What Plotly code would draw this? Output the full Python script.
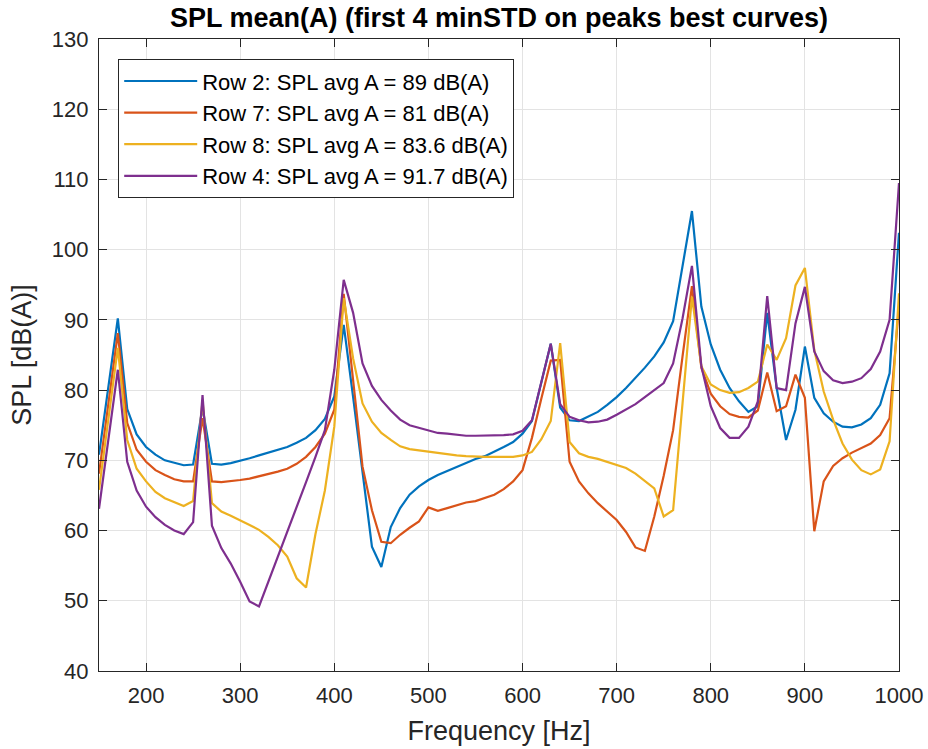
import plotly.graph_objects as go

freq = list(range(150, 1001, 10))

row2 = [70.8, 80.5, 90.2, 77.3, 73.7, 71.9, 70.8, 70.0, 69.6, 69.3,
        69.4, 77.5, 69.5, 69.4, 69.6, 69.9, 70.3, 70.7, 71.1, 71.4,
        71.9, 72.5, 73.2, 74.3, 75.9, 79.1, 89.3, 79.0, 68.5, 57.7,
        54.8, 60.5, 63.2, 65.1, 66.3, 67.2, 67.9, 68.5, 69.1, 69.7,
        70.2, 70.6, 71.2, 71.9, 72.6, 73.8, 75.6, 81.0, 86.6, 77.5,
        75.7, 75.6, 76.2, 76.9, 77.9, 79.0, 80.3, 81.7, 83.2, 84.8,
        86.8, 89.8, 97.4, 105.5, 91.9, 86.5, 82.9, 80.3, 78.4, 76.9,
        77.7, 91.0, 80.3, 72.9, 77.2, 86.2, 78.9, 76.7, 75.5, 74.8,
        74.7, 75.1, 76.0, 77.9, 82.4, 102.4]

row7 = [68.1, 78.1, 88.1, 75.3, 71.5, 69.8, 68.6, 67.9, 67.3, 67.0,
        67.0, 76.0, 67.0, 66.9, 67.0, 67.2, 67.4, 67.7, 68.0, 68.4,
        68.8, 69.5, 70.5, 71.9, 73.8, 77.2, 93.7, 81.0, 69.1, 62.9,
        58.4, 58.2, 59.4, 60.4, 61.3, 63.3, 62.8, 63.2, 63.6, 64.0,
        64.2, 64.6, 65.1, 65.9, 67.0, 68.6, 73.2, 78.8, 84.2, 84.3,
        69.8, 67.0, 65.3, 63.9, 62.7, 61.5, 59.8, 57.6, 57.1, 62.0,
        67.8, 74.3, 84.8, 94.8, 83.2, 79.5, 77.7, 76.6, 76.2, 76.1,
        77.1, 82.5, 77.0, 77.7, 82.2, 78.9, 59.9, 67.0, 69.2, 70.3,
        71.1, 71.7, 72.4, 73.6, 76.0, 92.0]

row8 = [65.8, 75.9, 86.0, 72.9, 68.8, 67.0, 65.5, 64.6, 64.0, 63.5,
        64.2, 78.5, 63.9, 62.7, 62.1, 61.5, 60.8, 60.1, 59.1, 57.9,
        56.3, 53.2, 51.9, 59.5, 65.7, 74.8, 93.1, 84.5, 78.1, 75.5,
        73.9, 72.9, 72.0, 71.6, 71.4, 71.2, 71.0, 70.9, 70.7, 70.6,
        70.5, 70.5, 70.5, 70.5, 70.5, 70.7, 71.2, 73.0, 75.6, 86.7,
        72.6, 71.0, 70.5, 70.2, 69.8, 69.3, 68.9, 68.1, 67.0, 66.0,
        62.0, 62.9, 78.1, 93.3, 83.4, 80.8, 80.0, 79.6, 79.7, 80.3,
        81.2, 86.5, 84.3, 87.4, 94.9, 97.4, 85.7, 79.8, 75.8, 72.4,
        70.1, 68.6, 68.0, 68.7, 72.7, 93.8]

row4 = [63.1, 73.0, 82.9, 69.8, 65.7, 63.4, 61.9, 60.8, 60.0, 59.5,
        61.2, 79.3, 60.7, 57.5, 55.3, 52.7, 49.9, 49.2, 52.7, 56.2,
        59.7, 63.3, 66.9, 70.5, 74.3, 82.9, 95.7, 91.0, 83.8, 80.6,
        78.6, 77.1, 75.8, 75.0, 74.6, 74.2, 73.9, 73.8, 73.6, 73.5,
        73.5, 73.5, 73.5, 73.6, 73.7, 74.2, 75.7, 81.2, 86.6, 78.0,
        76.2, 75.7, 75.4, 75.5, 75.8, 76.5, 77.2, 78.0, 79.0, 80.0,
        81.0, 83.8, 90.2, 97.7, 83.4, 77.7, 74.6, 73.2, 73.2, 74.8,
        78.4, 93.4, 80.3, 80.0, 89.5, 94.7, 85.5, 82.7, 81.4, 81.0,
        81.2, 81.7, 83.0, 85.5, 90.0, 109.5]

names = ["Row 2: SPL avg A = 89 dB(A)",
         "Row 7: SPL avg A = 81 dB(A)",
         "Row 8: SPL avg A = 83.6 dB(A)",
         "Row 4: SPL avg A = 91.7 dB(A)"]
colors = ["#0072BD", "#D95319", "#EDB120", "#7E2F8E"]
series = [row2, row7, row8, row4]

x_ticks = list(range(200, 1001, 100))
y_ticks = list(range(40, 131, 10))

FONT = "Liberation Sans, Arial, Helvetica, sans-serif"
TXT = "#262626"

fig = go.Figure()
for nm, col, ys in zip(names, colors, series):
    fig.add_trace(go.Scatter(x=freq, y=ys, mode="lines", name=nm,
                             line=dict(color=col, width=2.2)))

axis_common = dict(showline=True, linecolor=TXT, linewidth=1.2, mirror="ticks",
                   ticks="inside", ticklen=8, tickwidth=1.2, tickcolor=TXT,
                   showgrid=True, gridcolor="#e3e3e3", gridwidth=1,
                   zeroline=False, automargin=False,
                   tickfont=dict(family=FONT, size=22, color=TXT))

fig.update_layout(
    width=928, height=749,
    margin=dict(l=99, r=29, t=39, b=78),
    paper_bgcolor="white", plot_bgcolor="white",
    font=dict(family=FONT, color=TXT),
    title=dict(text="SPL mean(A) (first 4 minSTD on peaks best curves)",
               x=0.5, xref="paper", y=1 - 18 / 749, yref="container",
               xanchor="center", yanchor="middle",
               font=dict(family=FONT, size=27, color="black", weight="bold")),
    xaxis=dict(range=[150, 1000], tickvals=x_ticks, ticklabelstandoff=4,
               title=dict(text="Frequency [Hz]", font=dict(family=FONT, size=27, color=TXT), standoff=14),
               **axis_common),
    yaxis=dict(range=[40, 130], tickvals=y_ticks, ticklabelstandoff=5,
               title=dict(text="SPL [dB(A)]", font=dict(family=FONT, size=27, color=TXT), standoff=12),
               **axis_common),
    legend=dict(x=0.024, y=0.968, xanchor="left", yanchor="top",
                bgcolor="white", bordercolor=TXT, borderwidth=1,
                font=dict(family=FONT, size=22, color="black"),
                itemwidth=73, tracegroupgap=0),
    showlegend=True,
)

fig.write_html("out.html")
